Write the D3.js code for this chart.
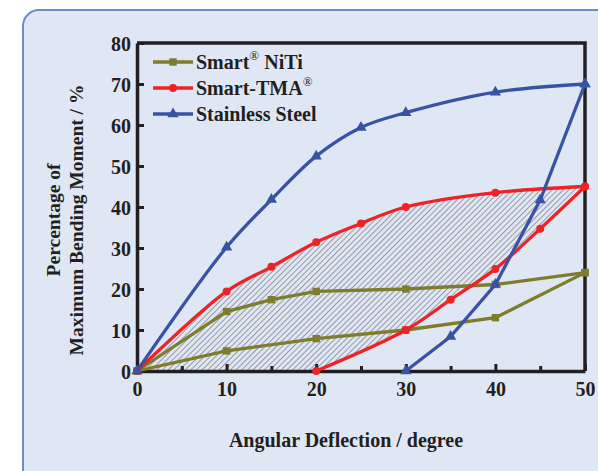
<!DOCTYPE html>
<html>
<head>
<meta charset="utf-8">
<script src="https://cdn.jsdelivr.net/npm/d3@7"></script>
<style>
  body { margin: 0; background: #fff; }
  text { font-family: "Liberation Serif", "Times New Roman", serif; font-weight: bold; fill: #231f20; }
</style>
</head>
<body>
<div id="root"></div>
<script>
// data (x = degree, y = %)
var nitiLoadX = [0, 10, 15, 20, 30, 40, 50];
var nitiLoadY = [0, 14.5, 17.4, 19.4, 20, 21.1, 24];
var nitiUnloadX = [50, 40, 30, 20, 10, 0];
var nitiUnloadY = [24, 13, 10, 7.9, 4.9, 0];

var tmaLoadX = [0, 10, 15, 20, 25, 30, 40, 50];
var tmaLoadY = [0, 19.4, 25.4, 31.4, 36, 40, 43.5, 45];
var tmaUnloadX = [50, 45, 40, 35, 30, 20];
var tmaUnloadY = [45, 34.7, 24.9, 17.4, 10, 0];

var ssLoadX = [0, 10, 15, 20, 25, 30, 40, 50];
var ssLoadY = [0, 30.2, 41.8, 52.4, 59.4, 63, 68, 70];
var ssUnloadX = [50, 45, 40, 35, 30];
var ssUnloadY = [70, 41.7, 21.1, 8.4, 0];

var xTicks = [0, 10, 20, 30, 40, 50];
var xMinor = [5, 15, 25, 35, 45];
var yTicks = [0, 10, 20, 30, 40, 50, 60, 70, 80];

var W = 598, H = 471;
var olive = "#7d7d2c", red = "#ee2326", blue = "#3953a4";

var svg = d3.select("#root").append("svg")
  .attr("width", W).attr("height", H);

// panel
svg.append("rect")
  .attr("x", 23).attr("y", 10).attr("width", 620).attr("height", 500)
  .attr("rx", 16).attr("ry", 16)
  .attr("fill", "#e0e7f4").attr("stroke", "#6f8bcb").attr("stroke-width", 2);

var x = d3.scaleLinear().domain([0, 50]).range([137, 585]);
var y = d3.scaleLinear().domain([0, 80]).range([371, 43]);

var pts = function(xs, ys) { return xs.map(function(v, i) { return [v, ys[i]]; }); };

var defs = svg.append("defs");
var pat = defs.append("pattern")
  .attr("id", "hatch").attr("patternUnits", "userSpaceOnUse")
  .attr("width", 4).attr("height", 4)
  .attr("patternTransform", "rotate(45)");
pat.append("line").attr("x1", 0).attr("y1", 0).attr("x2", 0).attr("y2", 4)
  .attr("stroke", "#4d4f55").attr("stroke-width", 1);

var smooth = d3.line().x(function(d) { return x(d[0]); }).y(function(d) { return y(d[1]); })
  .curve(d3.curveCatmullRom.alpha(0.5));
var straight = d3.line().x(function(d) { return x(d[0]); }).y(function(d) { return y(d[1]); });

// hatched loop of Smart-TMA
var loopPath = smooth(pts(tmaLoadX, tmaLoadY)) +
  smooth(pts(tmaUnloadX, tmaUnloadY)).replace(/^M/, "L") +
  "L" + x(0) + "," + y(0) + "Z";
svg.append("path").attr("d", loopPath).attr("fill", "url(#hatch)");

// axes
var gx = svg.append("g").attr("transform", "translate(0," + y(0) + ")")
  .call(d3.axisBottom(x).tickValues(xTicks).tickSize(-7).tickPadding(10).tickSizeOuter(0));
var gxm = svg.append("g").attr("transform", "translate(0," + y(0) + ")")
  .call(d3.axisBottom(x).tickValues(xMinor).tickSize(-5).tickFormat("").tickSizeOuter(0));
gxm.select(".domain").remove();
var gy = svg.append("g").attr("transform", "translate(" + x(0) + ",0)")
  .call(d3.axisLeft(y).tickValues(yTicks).tickSize(-7).tickPadding(6).tickSizeOuter(0));

[gx, gxm, gy].forEach(function(g) {
  g.selectAll("line").attr("stroke", "#231f20").attr("stroke-width", 3);
  g.selectAll(".domain").attr("stroke", "#231f20").attr("stroke-width", 3.5);
  g.selectAll("text").style("font-size", "20px").style("font-family", "Liberation Serif")
    .style("font-weight", "bold").attr("fill", "#231f20");
});
gy.selectAll("text").attr("dy", "0.36em");
gx.selectAll("text").attr("dy", "0.76em");

// frame top and right
svg.append("path")
  .attr("d", "M" + x(0) + "," + y(80) + "H" + x(50) + "V" + y(0))
  .attr("fill", "none").attr("stroke", "#231f20").attr("stroke-width", 3.5);

// series
function drawSeries(lp, up, color, loadSmooth, unloadSmooth, marker) {
  svg.append("path").attr("d", (loadSmooth ? smooth : straight)(lp))
    .attr("fill", "none").attr("stroke", color).attr("stroke-width", 3.3);
  svg.append("path").attr("d", (unloadSmooth ? smooth : straight)(up))
    .attr("fill", "none").attr("stroke", color).attr("stroke-width", 3.3);
  var all = lp.concat(up);
  svg.append("g").selectAll("path").data(all).join("path")
    .attr("transform", function(d) { return "translate(" + x(d[0]) + "," + y(d[1]) + ")"; })
    .attr("d", marker).attr("fill", color);
}
var sq = d3.symbol().type(d3.symbolSquare).size(55)();
var ci = d3.symbol().type(d3.symbolCircle).size(50)();
var tr = d3.symbol().type(d3.symbolTriangle).size(55)();

drawSeries(pts(nitiLoadX, nitiLoadY), pts(nitiUnloadX, nitiUnloadY), olive, false, false, sq);
drawSeries(pts(tmaLoadX, tmaLoadY), pts(tmaUnloadX, tmaUnloadY), red, true, true, ci);
drawSeries(pts(ssLoadX, ssLoadY), pts(ssUnloadX, ssUnloadY), blue, true, false, tr);

// legend
var leg = svg.append("g");
var legRows = [
  { c: olive, m: sq, y: 62 },
  { c: red, m: ci, y: 88 },
  { c: blue, m: tr, y: 114 }
];
legRows.forEach(function(r) {
  leg.append("line").attr("x1", 153).attr("x2", 193).attr("y1", r.y).attr("y2", r.y)
    .attr("stroke", r.c).attr("stroke-width", 3.3);
  leg.append("path").attr("d", r.m).attr("fill", r.c)
    .attr("transform", "translate(173," + r.y + ")");
});
var t0 = leg.append("text").attr("x", 196).attr("y", 69).style("font-size", "20px");
t0.append("tspan").text("Smart");
t0.append("tspan").text("\u00AE").attr("dy", -9).style("font-size", "13px").style("font-weight", "normal");
t0.append("tspan").text(" NiTi").attr("dy", 9);
var t1 = leg.append("text").attr("x", 196).attr("y", 95).style("font-size", "20px");
t1.append("tspan").text("Smart-TMA");
t1.append("tspan").text("\u00AE").attr("dy", -9).style("font-size", "13px").style("font-weight", "normal");
leg.append("text").attr("x", 196).attr("y", 121).style("font-size", "20px").text("Stainless Steel");

// axis titles
svg.append("text").attr("x", 346).attr("y", 447).attr("text-anchor", "middle")
  .style("font-size", "20px").text("Angular Deflection / degree");
svg.append("text").attr("transform", "translate(60,220) rotate(-90)").attr("text-anchor", "middle")
  .style("font-size", "19.5px").text("Percentage of");
svg.append("text").attr("transform", "translate(83,220) rotate(-90)").attr("text-anchor", "middle")
  .style("font-size", "19.5px").text("Maximum Bending Moment / %");
</script>
</body>
</html>
